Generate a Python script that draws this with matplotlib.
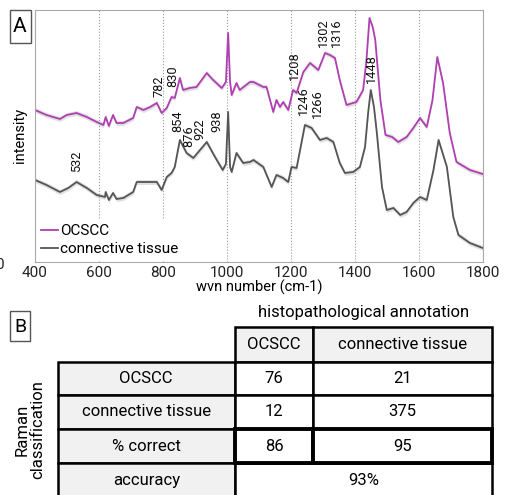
import numpy as np
import matplotlib.pyplot as plt
from matplotlib.patches import Rectangle

plt.rcParams['font.family'] = ['Roboto', 'DejaVu Sans']

# Mean Raman spectra (arbitrary intensity units, offset for display)
wvn_ocscc = [400, 436, 457, 478, 499, 530, 562, 593, 614, 621, 631, 644, 655, 676,
             707, 718, 739, 760, 781, 796, 812, 827, 837, 853, 863, 884, 905, 937,
             957, 984, 997, 1004, 1010, 1015, 1030, 1040, 1072, 1083, 1114, 1124,
             1145, 1155, 1166, 1176, 1192, 1207, 1218, 1239, 1260, 1286, 1307, 1322,
             1338, 1353, 1374, 1405, 1426, 1436, 1446, 1456, 1464, 1480, 1496, 1517,
             1536, 1562, 1583, 1604, 1625, 1643, 1658, 1676, 1697, 1718, 1760, 1800]
int_ocscc = [152, 147, 145, 143, 147, 149, 145, 140, 137, 145, 136, 147, 139, 139,
             144, 155, 152, 155, 159, 149, 154, 165, 164, 184, 172, 174, 175, 189,
             182, 174, 180, 229, 180, 167, 179, 172, 180, 180, 175, 175,
             150, 162, 155, 160, 152, 172, 169, 190, 199, 192, 209, 207,
             204, 182, 157, 160, 172, 200, 244, 235, 222, 162, 127, 125,
             120, 125, 134, 144, 135, 162, 205, 179, 129, 100, 92, 88]

wvn_conn = [400, 436, 478, 504, 530, 562, 593, 619, 621, 631, 644, 655, 676, 707,
            718, 760, 781, 796, 812, 827, 837, 853, 874, 895, 916, 937, 963, 987,
            997, 1004, 1010, 1015, 1030, 1051, 1072, 1083, 1114, 1140, 1155, 1176,
            1192, 1202, 1218, 1244, 1265, 1291, 1312, 1333, 1353, 1369, 1395, 1416,
            1432, 1442, 1450, 1460, 1469, 1485, 1500, 1521, 1542, 1562, 1583, 1604,
            1625, 1646, 1662, 1688, 1708, 1724, 1760, 1800]
int_conn = [82, 77, 70, 74, 80, 74, 67, 65, 70, 62, 69, 63, 64, 70,
            80, 80, 80, 72, 85, 89, 95, 122, 109, 104, 112, 120, 105, 92,
            98, 150, 95, 90, 109, 99, 100, 102, 95, 75, 87, 84,
            80, 95, 94, 137, 134, 122, 124, 120, 99, 89, 90, 95,
            115, 150, 172, 155, 129, 75, 52, 54, 47, 50, 59, 65,
            62, 92, 122, 95, 45, 27, 19, 14]

band = 2.5  # half-width of the spread band

# Peak labels: text, wavenumber position, bottom of label
peak_labels = ['532', '782', '830', '854', '876', '922', '938',
               '1208', '1302', '1316', '1246', '1266', '1448']
peak_x = [531, 789, 832, 847, 881, 917, 968,
          1210, 1302, 1344, 1239, 1284, 1453]
peak_y = [90, 165, 175, 130, 115, 122, 130,
          182, 215, 215, 147, 144, 179]

# Confusion table
col_labels = ['OCSCC', 'connective tissue']
row_labels = ['OCSCC', 'connective tissue', '% correct', 'accuracy']
counts = [[76, 21], [12, 375]]
pct_correct = [86, 95]
accuracy = '93%'

W, H = 505, 495
fig = plt.figure(figsize=(W / 100, H / 100), dpi=100)

def px_rect(x0, y0, x1, y1):
    return [x0 / W, 1 - y1 / H, (x1 - x0) / W, (y1 - y0) / H]

ax = fig.add_axes(px_rect(35, 9.5, 482.7, 262))
magenta = '#b03fb2'
gray = '#555555'
ax.fill_between(wvn_ocscc, np.array(int_ocscc) - band, np.array(int_ocscc) + band,
                color='#d4d4d4', alpha=0.7, lw=0)
ax.fill_between(wvn_conn, np.array(int_conn) - band, np.array(int_conn) + band,
                color='#d4d4d4', alpha=0.7, lw=0)
ax.plot(wvn_ocscc, int_ocscc, color=magenta, lw=1.3, label='OCSCC')
ax.plot(wvn_conn, int_conn, color=gray, lw=1.3, label='connective tissue')

for lab, x, y in zip(peak_labels, peak_x, peak_y):
    ax.text(x, y, lab, rotation=90, ha='center', va='bottom', fontsize=9.2, color='#111111')

ax.set_xlim(400, 1800)
ax.set_ylim(0, 252.5)
ax.set_xticks([400, 600, 800, 1000, 1200, 1400, 1600, 1800])
ax.set_yticks([])
ax.tick_params(axis='x', length=0, labelsize=11, pad=3, colors='#222222')
ax.grid(axis='x', ls=':', color='#999999', lw=0.8)
for s in ax.spines.values():
    s.set_color('#aaaaaa')
ax.set_xlabel('wvn number (cm-1)', fontsize=10.5, labelpad=0)
ax.set_ylabel('intensity', fontsize=10.5, labelpad=6)
leg = ax.legend(loc='lower left', frameon=True, fontsize=11, handlelength=1.1,
                handletextpad=0.15, borderaxespad=0.1, labelspacing=0.25,
                borderpad=0.3)
leg.get_frame().set_edgecolor('none')
leg.get_frame().set_facecolor('white')
leg.get_frame().set_alpha(1)

# overlay in pixel coordinates for panel letters and the table
ov = fig.add_axes([0, 0, 1, 1])
ov.set_xlim(0, W)
ov.set_ylim(H, 0)
ov.axis('off')
ov.patch.set_alpha(0)

ov.add_patch(Rectangle((9.5, 10), 21, 33, fill=False, ec='#555555', lw=1))
ov.text(20, 27, 'A', ha='center', va='center', fontsize=15)
ov.add_patch(Rectangle((10, 311), 20, 30, fill=False, ec='#555555', lw=1))
ov.text(20, 326.5, 'B', ha='center', va='center', fontsize=14)
ov.text(4, 265, '0', ha='right', va='center', fontsize=11, color='#222222')

# table geometry
x_lab0, x_c0, x_c1, x_c2 = 57.5, 235, 313.3, 491.7
y_rows = [327.3, 361.7, 395, 429, 463.3, 497.5]
cell_fc = '#f1f1f1'
lw = 1.8
fs = 12

ov.text((x_c0 + x_c2) / 2, 313, 'histopathological annotation', ha='center',
        va='center', fontsize=fs)
ov.text(30, (y_rows[1] + y_rows[5]) / 2, 'Raman\nclassification', rotation=90,
        ha='center', va='center', fontsize=fs, linespacing=1.0)

# header row
for (xa, xb), lab in zip([(x_c0, x_c1), (x_c1, x_c2)], col_labels):
    ov.add_patch(Rectangle((xa, y_rows[0]), xb - xa, y_rows[1] - y_rows[0],
                           fc=cell_fc, ec='black', lw=lw))
    ov.text((xa + xb) / 2, (y_rows[0] + y_rows[1]) / 2, lab, ha='center',
            va='center', fontsize=fs)

# row labels and cells
for i, lab in enumerate(row_labels):
    ya, yb = y_rows[i + 1], y_rows[i + 2]
    ym = (ya + yb) / 2
    ov.add_patch(Rectangle((x_lab0, ya), x_c0 - x_lab0, yb - ya,
                           fc=cell_fc, ec='black', lw=lw, clip_on=False))
    ov.text((x_lab0 + x_c0) / 2, ym, lab, ha='center', va='center', fontsize=fs)
    if i < 2:
        vals = counts[i]
    elif i == 2:
        vals = pct_correct
    else:
        vals = None
    if vals is None:
        ov.add_patch(Rectangle((x_c0, ya), x_c2 - x_c0, yb - ya,
                               fc='white', ec='black', lw=lw, clip_on=False))
        ov.text((x_c0 + x_c2) / 2, ym, accuracy, ha='center', va='center', fontsize=fs)
        continue
    for (xa, xb), v in zip([(x_c0, x_c1), (x_c1, x_c2)], vals):
        ov.add_patch(Rectangle((xa, ya), xb - xa, yb - ya, fc='white', ec='black',
                               lw=2.8 if i == 2 else lw, zorder=3 if i == 2 else 2))
        ov.text((xa + xb) / 2, ym, str(v), ha='center', va='center', fontsize=fs,
                zorder=4)

fig.savefig('out.png', dpi=100)
